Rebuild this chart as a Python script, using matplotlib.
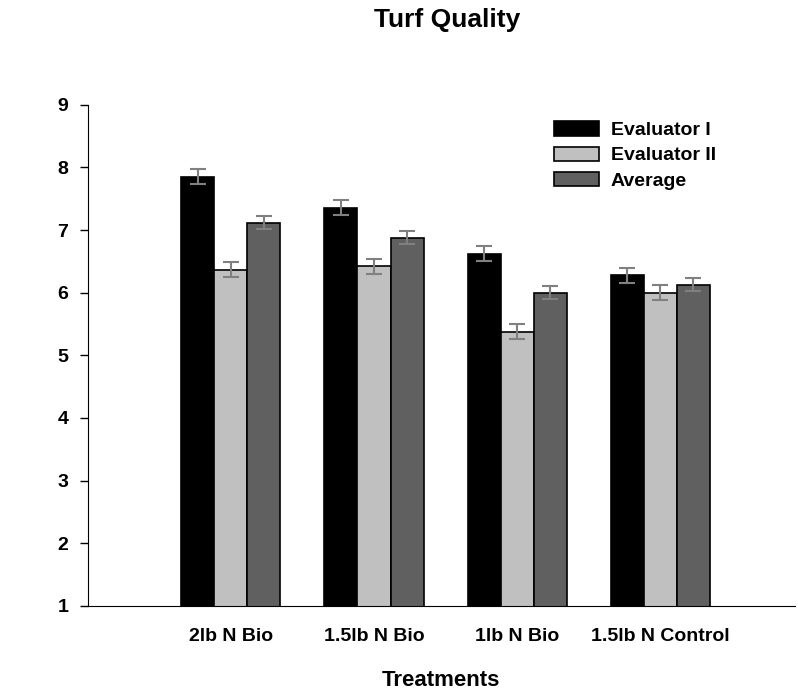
import matplotlib.pyplot as plt
import numpy as np

plt.rcParams['font.family'] = ['Liberation Sans', 'DejaVu Sans']
plt.rcParams['font.weight'] = 'bold'

treatments = ['2lb N Bio', '1.5lb N Bio', '1lb N Bio', '1.5lb N Control']
series_names = ['Evaluator I', 'Evaluator II', 'Average']
evaluator1 = [7.85, 7.36, 6.62, 6.28]
evaluator2 = [6.37, 6.42, 5.38, 6.00]
average = [7.12, 6.88, 6.00, 6.13]
err1 = [0.12, 0.12, 0.12, 0.12]
err2 = [0.12, 0.12, 0.12, 0.12]
err_avg = [0.10, 0.10, 0.10, 0.10]
colors = ['#000000', '#c0c0c0', '#606060']

fig = plt.figure(figsize=(7.98, 6.94), dpi=100)
ax = fig.add_axes([0.110, 0.127, 0.886, 0.722])

x = np.arange(len(treatments))
w = 0.231
for k, (vals, errs) in enumerate(zip([evaluator1, evaluator2, average], [err1, err2, err_avg])):
    ax.bar(x + (k - 1) * w, vals, width=w, bottom=0, color=colors[k],
           edgecolor='black', linewidth=1.2, label=series_names[k], zorder=2)
    ax.errorbar(x + (k - 1) * w, vals, yerr=errs, fmt='none', ecolor='#808080',
                elinewidth=1.5, capsize=5.5, capthick=1.5, zorder=3)

ax.set_ylim(1, 9)
ax.set_xlim(-1.0, 3.94)
ax.set_yticks(range(1, 10))
ax.set_xticks(x)
ax.set_xticklabels(treatments)
ax.tick_params(axis='y', labelsize=14, length=6, width=1, direction='out', pad=8)
ax.tick_params(axis='x', labelsize=14, length=0, pad=16)
ax.spines['top'].set_visible(False)
ax.spines['right'].set_visible(False)

ax.set_xlabel('Treatments', fontsize=16, fontweight='bold', labelpad=18)
fig.text(0.560, 0.961, 'Turf Quality', fontsize=19, fontweight='bold',
         ha='center', va='baseline')

ax.legend(loc='upper left', bbox_to_anchor=(0.635, 1.002), frameon=False, fontsize=14,
          handlelength=2.3, handleheight=0.75, labelspacing=0.38, handletextpad=0.6)

fig.savefig('out.png', dpi=100)
